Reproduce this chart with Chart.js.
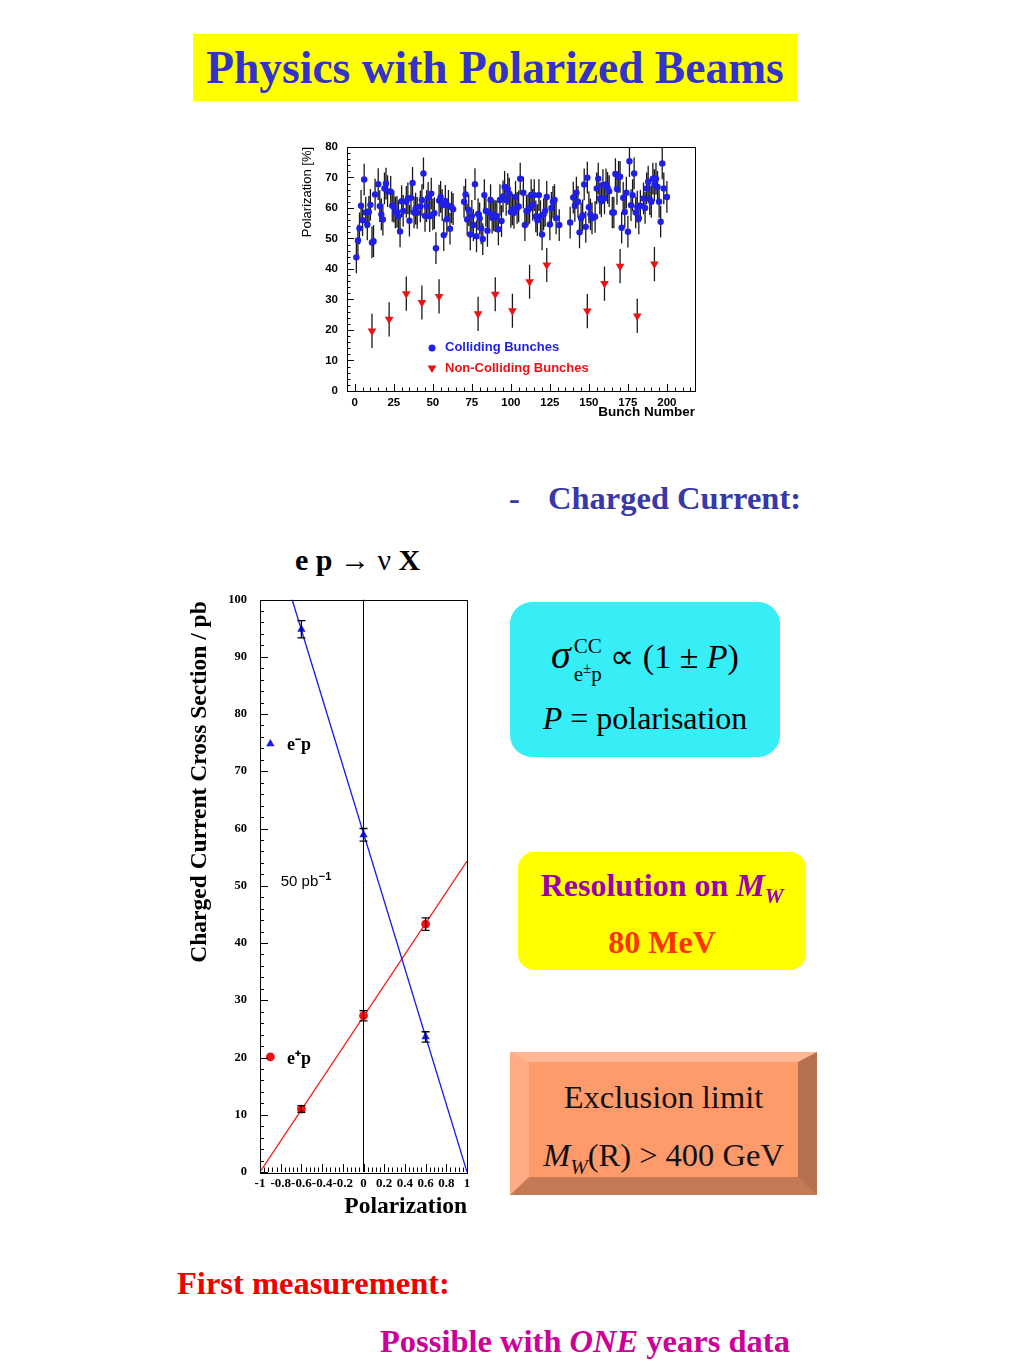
<!DOCTYPE html>
<html><head><meta charset="utf-8">
<script src="https://cdn.jsdelivr.net/npm/chart.js@4.4.0/dist/chart.umd.min.js"></script>
<style>
html,body{margin:0;padding:0;background:#fff;}
body{width:1024px;height:1365px;position:relative;overflow:hidden;font-family:"Liberation Serif","Times New Roman",serif;}
.abs{position:absolute;white-space:nowrap;}
#title{left:193px;top:34px;width:604px;height:67px;background:#ffff00;color:#3333cc;font-weight:bold;font-size:45.5px;line-height:67px;text-align:center;}
.cc{color:#3838a8;font-weight:bold;font-size:32.5px;line-height:36px;}
#react{left:295px;top:543px;font-weight:bold;font-size:30px;line-height:34px;color:#000;}
#react .nu{font-weight:normal;}
#cyan{left:510px;top:602px;width:270px;height:155px;background:#38eef6;border-radius:22px;}
#yel{left:518px;top:852px;width:288px;height:118px;background:#ffff00;border-radius:16px;}
#bev{left:510px;top:1052px;width:269px;height:115px;background:#ff9a6a;border-style:solid;border-width:10px 19px 18px 19px;border-color:#ffb896 #b5704f #c47a57 #ffab85;}
.ctr{position:absolute;left:0;width:100%;text-align:center;white-space:nowrap;}
#first{left:177px;top:1264px;color:#ee0000;font-weight:bold;font-size:32.5px;line-height:38px;}
#poss{left:380px;top:1322px;color:#cc0099;font-weight:bold;font-size:32.5px;line-height:38px;}
.ss{display:inline-block;vertical-align:middle;line-height:1;text-align:left;font-size:21px;margin-left:3px;}
.ss span{display:block;}
canvas{position:absolute;}
</style></head><body>

<div id="title" class="abs">Physics with Polarized Beams</div>
<div class="abs cc" style="left:509px;top:480px;">-</div>
<div class="abs cc" style="left:548px;top:480px;">Charged Current:</div>
<div id="react" class="abs">e p <span class="nu">→ ν</span> X</div>

<canvas id="topChart" width="415" height="294" style="left:290px;top:131px;"></canvas>
<canvas id="botChart" width="300" height="646" style="left:180px;top:579px;"></canvas>

<div id="cyan" class="abs">
  <div class="ctr" style="top:27px;font-size:34px;line-height:52px;"><i style="font-size:40px;">σ</i><span class="ss"><span style="margin-bottom:4px;">CC</span><span>e<span style="display:inline;vertical-align:super;font-size:15px;">±</span>p</span></span> ∝ (1 ± <i>P</i>)</div>
  <div class="ctr" style="top:96px;font-size:32px;line-height:40px;"><i>P</i> = polarisation</div>
</div>

<div id="yel" class="abs">
  <div class="ctr" style="top:13px;font-size:32px;line-height:40px;font-weight:bold;color:#9a00b0;">Resolution on <i>M</i><sub style="font-size:21px;"><i>W</i></sub></div>
  <div class="ctr" style="top:70px;font-size:32px;line-height:40px;font-weight:bold;color:#ff3300;">80 MeV</div>
</div>

<div id="bev" class="abs">
  <div class="ctr" style="top:15px;font-size:32.5px;line-height:40px;color:#111;">Exclusion limit</div>
  <div class="ctr" style="top:72px;font-size:32.5px;line-height:42px;color:#111;"><i>M</i><sub style="font-size:21px;"><i>W</i></sub>(R) &gt; 400 GeV</div>
</div>

<div id="first" class="abs">First measurement:</div>
<div id="poss" class="abs">Possible with <i>ONE</i> years data</div>

<script>
// ---------- Top chart data: polarization per bunch ----------
const trainABunch = [1,2,3,4,5,6,7,8,9,10,11,12,13,15,16,17,18,19,20,21,23,24,25,26,27,28,29,30,31,33,34,35,36,37,38,39,40,42,43,44,45,46,47,48,49,50,51,52,54,55,56,57,58,59,60,61,62,63];
const trainAPol = [43.8,49.3,53.3,60.7,56,69.3,58.5,54.6,58.7,61,48.7,49.1,64.4,67.8,60.6,57.9,56.2,66.4,68,65.5,65.3,60.7,60.4,58.5,58.7,57.3,52.3,62.2,59,62,63.1,55.8,63.3,68.2,58.5,59.8,58.4,60.5,62.6,71.3,57.4,60.6,63.3,57.3,64.7,57.9,58.3,46.8,62.4,63.6,60.9,51.1,62.3,56.3,60.7,53.2,60.2,59.6];
const trainBBunch = [70,71,72,73,74,75,76,77,78,79,80,81,82,83,84,85,86,87,88,89,90,91,92,93,94,95,96,97,98,99,100,101,102,103,104,105,106,108,109,110,111,112,113,114,115,116,117,118,119,120,121,122,123,125,126,127,128,129,131];
const trainBPol = [62,64.4,56.2,59.3,51.3,57.4,54.4,67.8,50.7,58,56.6,53.3,49.8,64.2,59,52.5,58.5,62.6,56.8,57.6,57.3,57.2,53,62.6,55.7,63.8,66.9,62.6,66.2,64.7,58.7,59.5,58.4,63.6,60,60.5,69.6,65,54.4,59,59.3,60,64.2,61,64.2,57.2,56,64.2,57.3,51.3,57.9,59,63.6,54.6,60,62,62.6,56.6,54.4];
const trainCBunch = [138,140,141,142,143,144,145,146,147,148,149,150,151,152,154,155,156,157,158,159,160,161,162,163,165,166,167,168,169,170,171,172,173,174,175,176,177,178,179,180,181,182,183,185,186,187,188,189,190,191,192,193,194,195,196,197,198,200];
const trainCPol = [55.2,63.4,60.7,65,62,52,56.6,57.6,67.7,53.8,69.9,60.2,57.9,56.6,57.1,66.4,69.6,63.1,62.2,67.5,63.1,67.7,66.6,65.5,58.5,58.5,71.1,66.2,70.2,70.2,53.5,63.3,58.7,65,52.2,75.3,60.9,64.2,71.3,58.5,60.4,56.6,60.7,63.1,60,66.4,68.6,62.9,62,69.6,67.5,69.6,66.9,62,55.5,74.6,66.4,63.6];
const collidingErr = 5.2;
const nonCollidingBunch = [11,22,33,43,54,79,90,101,112,123,149,160,170,181,192];
const nonCollidingPol = [19.7,23.5,31.9,29,31,25.3,31.7,26.3,35.8,41.3,26.2,35.2,40.9,24.6,41.6];
const nonCollidingErr = 5.6;
const topXTicks = [0,25,50,75,100,125,150,175,200];
const topYTicks = [0,10,20,30,40,50,60,70,80];

// ---------- Bottom chart data: CC cross section vs polarization ----------
const polPoints = [-0.6, 0, 0.6];
const eMinusXsec = [94.8, 58.9, 23.6];
const eMinusErr = [1.5, 1.1, 0.9];
const ePlusXsec = [11.0, 27.3, 43.3];
const ePlusErr = [0.6, 0.9, 1.1];
const eMinusFitX = [-0.69, 1.0];
const eMinusFitY = [100, 0];
const ePlusFitX = [-1.0, 1.0];
const ePlusFitY = [0, 54.3];
const botXTicks = [-1,-0.8,-0.6,-0.4,-0.2,0,0.2,0.4,0.6,0.8,1];
const botYTicks = [0,10,20,30,40,50,60,70,80,90,100];

const collBunch = trainABunch.concat(trainBBunch, trainCBunch);
const collPol = trainAPol.concat(trainBPol, trainCPol);
const pts = (xs, ys) => xs.map((v,i)=>({x:v, y:ys[i]}));
const SANS = '"Liberation Sans", Arial, sans-serif';
const SERIF = '"Liberation Serif", "Times New Roman", serif';

function innerTicks(ctx, scale, from, to, step, len, vertical, a){
  ctx.beginPath();
  for (let v = from; v <= to + 1e-9; v += step){
    const vv = Math.round(v*1000)/1000;
    if (vv < scale.min - 1e-9 || vv > scale.max + 1e-9) continue;
    const p = Math.round(scale.getPixelForValue(vv)) + 0.5;
    if (vertical){ ctx.moveTo(a.left, p); ctx.lineTo(a.left + len, p); }
    else { ctx.moveTo(p, a.bottom); ctx.lineTo(p, a.bottom - len); }
  }
  ctx.stroke();
}

const topDecor = {
  id: 'topDecor',
  beforeDatasetsDraw(chart){
    const {ctx, chartArea:a, scales:{x, y}} = chart;
    ctx.save();
    ctx.beginPath(); ctx.rect(a.left, a.top, a.right-a.left, a.bottom-a.top); ctx.clip();
    ctx.lineWidth = 1.3;
    ctx.strokeStyle = '#1a1a1a';
    ctx.beginPath();
    collBunch.forEach((b,i)=>{
      const px = x.getPixelForValue(b);
      ctx.moveTo(px, y.getPixelForValue(collPol[i]-collidingErr));
      ctx.lineTo(px, y.getPixelForValue(collPol[i]+collidingErr));
    });
    nonCollidingBunch.forEach((b,i)=>{
      const px = x.getPixelForValue(b);
      ctx.moveTo(px, y.getPixelForValue(nonCollidingPol[i]-nonCollidingErr));
      ctx.lineTo(px, y.getPixelForValue(nonCollidingPol[i]+nonCollidingErr));
    });
    ctx.stroke();
    ctx.restore();
  },
  afterDraw(chart){
    const {ctx, chartArea:a, scales:{x, y}} = chart;
    ctx.save();
    ctx.strokeStyle = '#000'; ctx.lineWidth = 1;
    ctx.strokeRect(Math.round(a.left)+0.5, Math.round(a.top)+0.5, Math.round(a.right-a.left), Math.round(a.bottom-a.top));
    innerTicks(ctx, x, 0, 200, 25, 7, false, a);
    innerTicks(ctx, x, -5, 215, 5, 3.5, false, a);
    innerTicks(ctx, y, 0, 80, 10, 7, true, a);
    innerTicks(ctx, y, 0, 80, 2, 3.5, true, a);
    // axis titles
    ctx.fillStyle = '#000';
    ctx.font = 'bold 13.5px ' + SANS;
    ctx.textAlign = 'right'; ctx.textBaseline = 'middle';
    ctx.fillText('Bunch Number', a.right, a.bottom + 21);
    ctx.save();
    ctx.translate(17, a.top); ctx.rotate(-Math.PI/2);
    ctx.font = '13px ' + SANS;
    ctx.textAlign = 'right'; ctx.textBaseline = 'middle';
    ctx.fillText('Polarization [%]', 0, 0);
    ctx.restore();
    // legend
    ctx.font = 'bold 13px ' + SANS;
    ctx.textAlign = 'left';
    ctx.fillStyle = '#1f1fe8';
    ctx.beginPath(); ctx.arc(a.left + 85, a.top + 201, 3.5, 0, Math.PI*2); ctx.fill();
    ctx.fillText('Colliding Bunches', a.left + 98, a.top + 201);
    ctx.fillStyle = '#ee1111';
    ctx.beginPath();
    ctx.moveTo(a.left + 80.5, a.top + 218.5); ctx.lineTo(a.left + 89.5, a.top + 218.5); ctx.lineTo(a.left + 85, a.top + 226); ctx.closePath(); ctx.fill();
    ctx.fillText('Non-Colliding Bunches', a.left + 98, a.top + 222);
    ctx.restore();
  }
};

new Chart(document.getElementById('topChart'), {
  type: 'scatter',
  data: { datasets: [
    { label:'Colliding Bunches', data: pts(collBunch, collPol), pointStyle:'circle', pointRadius:3.2, backgroundColor:'#1f1fe8', borderColor:'#1f1fe8', borderWidth:0 },
    { label:'Non-Colliding Bunches', data: pts(nonCollidingBunch, nonCollidingPol), pointStyle:'triangle', rotation:180, pointRadius:5, backgroundColor:'#ee1111', borderColor:'#ee1111', borderWidth:0 }
  ]},
  options: {
    responsive:false, animation:false, devicePixelRatio:1,
    layout:{padding:{top:8, right:10, left:0, bottom:0}},
    plugins:{legend:{display:false}, tooltip:{enabled:false}},
    scales:{
      x:{type:'linear', min:-5, max:218,
         afterBuildTicks:s=>{ s.ticks = topXTicks.map(v=>({value:v})); },
         afterFit:s=>{ s.height = 34; },
         grid:{display:false, drawTicks:false}, border:{display:false},
         ticks:{padding:5, autoSkip:false, maxRotation:0, color:'#000', font:{family:SANS, size:11.5, weight:'bold'}, callback:v=>String(v)}},
      y:{type:'linear', min:0, max:80,
         afterBuildTicks:s=>{ s.ticks = topYTicks.map(v=>({value:v})); },
         afterFit:s=>{ s.width = 57; },
         grid:{display:false, drawTicks:false}, border:{display:false},
         ticks:{padding:9, autoSkip:false, color:'#000', font:{family:SANS, size:11.5, weight:'bold'}, callback:v=>String(v)}}
    }
  },
  plugins:[topDecor]
});

const botDecor = {
  id:'botDecor',
  afterDatasetsDraw(chart){
    const {ctx, chartArea:a, scales:{x, y}} = chart;
    ctx.save();
    ctx.lineWidth = 1.3; ctx.strokeStyle = '#000';
    const bar = (px, lo, hi)=>{
      const yl = y.getPixelForValue(lo), yh = y.getPixelForValue(hi);
      ctx.beginPath();
      ctx.moveTo(px, yl); ctx.lineTo(px, yh);
      ctx.moveTo(px-4, yl); ctx.lineTo(px+4, yl);
      ctx.moveTo(px-4, yh); ctx.lineTo(px+4, yh);
      ctx.stroke();
    };
    polPoints.forEach((p,i)=>{
      const px = x.getPixelForValue(p);
      bar(px, eMinusXsec[i]-eMinusErr[i], eMinusXsec[i]+eMinusErr[i]);
      bar(px, ePlusXsec[i]-ePlusErr[i], ePlusXsec[i]+ePlusErr[i]);
    });
    ctx.restore();
  },
  afterDraw(chart){
    const {ctx, chartArea:a, scales:{x, y}} = chart;
    ctx.save();
    ctx.strokeStyle = '#000'; ctx.lineWidth = 1;
    ctx.strokeRect(Math.round(a.left)+0.5, Math.round(a.top)+0.5, Math.round(a.right-a.left), Math.round(a.bottom-a.top));
    innerTicks(ctx, x, -1, 1, 0.2, 8, false, a);
    innerTicks(ctx, x, -1, 1, 0.04, 4.5, false, a);
    innerTicks(ctx, y, 0, 100, 10, 8, true, a);
    innerTicks(ctx, y, 0, 100, 2, 4, true, a);
    ctx.fillStyle = '#000';
    ctx.font = 'bold 23.5px ' + SERIF;
    ctx.textAlign = 'right'; ctx.textBaseline = 'middle';
    ctx.fillText('Polarization', a.right, a.bottom + 35);
    ctx.save();
    ctx.translate(20, 203); ctx.rotate(-Math.PI/2);
    ctx.textAlign = 'center';
    ctx.font = 'bold 23.5px ' + SERIF;
    ctx.fillText('Charged Current Cross Section / pb', 0, 0);
    ctx.restore();
    // in-plot legend texts
    ctx.textAlign = 'left';
    ctx.font = 'bold 18px ' + SERIF;
    ctx.fillText('e⁻p', x.getPixelForValue(-0.74), y.getPixelForValue(74.6));
    ctx.fillText('e⁺p', x.getPixelForValue(-0.74), y.getPixelForValue(19.6));
    ctx.font = '15px ' + SANS;
    const tx = x.getPixelForValue(-0.8), ty = y.getPixelForValue(50.6);
    ctx.fillText('50 pb', tx, ty);
    const w = ctx.measureText('50 pb').width;
    ctx.font = 'bold 11px ' + SANS;
    ctx.fillText('−1', tx + w + 0.5, ty - 5);
    ctx.restore();
  }
};

new Chart(document.getElementById('botChart'), {
  type:'scatter',
  data:{ datasets:[
    { label:'P=0', data: pts([0,0],[0,100]), showLine:true, borderColor:'#000', borderWidth:1, pointRadius:0 },
    { label:'e- fit', data: pts(eMinusFitX, eMinusFitY), showLine:true, borderColor:'#1a1ae6', borderWidth:1.3, pointRadius:0 },
    { label:'e+ fit', data: pts(ePlusFitX, ePlusFitY), showLine:true, borderColor:'#ee2222', borderWidth:1.3, pointRadius:0 },
    { label:'e-p', data: pts(polPoints, eMinusXsec), pointStyle:'triangle', pointRadius:4.8, backgroundColor:'#1a1ae6', borderWidth:0 },
    { label:'e+p', data: pts(polPoints, ePlusXsec), pointStyle:'circle', pointRadius:4.4, backgroundColor:'#ee1111', borderWidth:0 },
    { label:'e-p key', data: [{x:-0.9, y:74.8}], pointStyle:'triangle', pointRadius:4.8, backgroundColor:'#1a1ae6', borderWidth:0 },
    { label:'e+p key', data: [{x:-0.9, y:20.1}], pointStyle:'circle', pointRadius:4.4, backgroundColor:'#ee1111', borderWidth:0 }
  ]},
  options:{
    responsive:false, animation:false, devicePixelRatio:1,
    layout:{padding:{top:9, right:13, left:0, bottom:0}},
    plugins:{legend:{display:false}, tooltip:{enabled:false}},
    scales:{
      x:{type:'linear', min:-1, max:1,
         afterBuildTicks:s=>{ s.ticks = botXTicks.map(v=>({value:v})); },
         afterFit:s=>{ s.height = 53; },
         grid:{display:false, drawTicks:false}, border:{display:false},
         ticks:{padding:4, autoSkip:false, maxRotation:0, minRotation:0, color:'#000', font:{family:SERIF, size:13, weight:'bold'}, callback:v=>String(Math.round(v*10)/10)}},
      y:{type:'linear', min:0, max:100,
         afterBuildTicks:s=>{ s.ticks = botYTicks.map(v=>({value:v})); },
         afterFit:s=>{ s.width = 80; },
         grid:{display:false, drawTicks:false}, border:{display:false},
         ticks:{padding:13, autoSkip:false, color:'#000', font:{family:SERIF, size:12.5, weight:'bold'}, callback:v=>String(v)}}
    }
  },
  plugins:[botDecor]
});
</script>
</body></html>
